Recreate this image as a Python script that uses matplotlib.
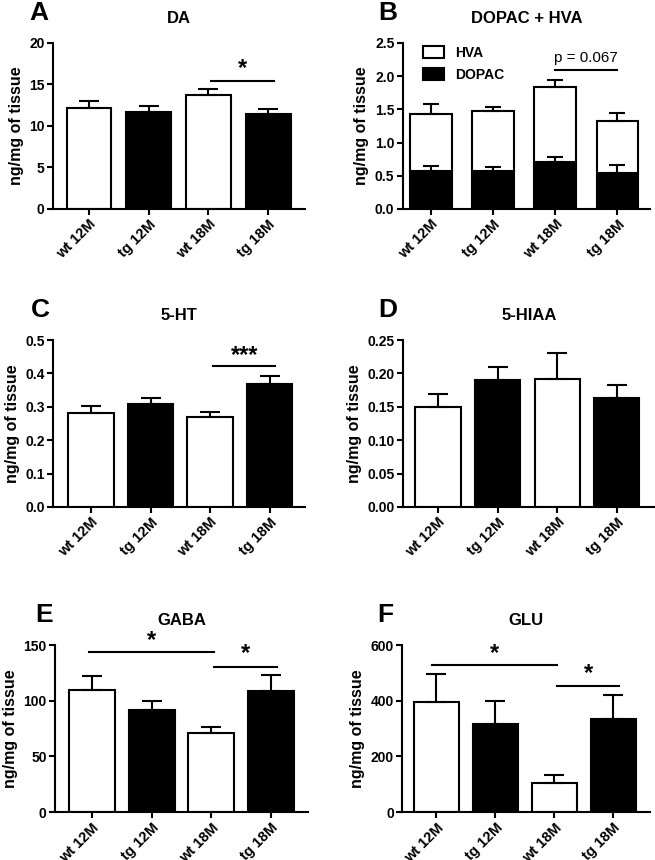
import numpy as np
import matplotlib.pyplot as plt
from matplotlib.patches import Patch

plt.rcParams['font.family'] = ['Liberation Sans', 'DejaVu Sans']
plt.rcParams['font.weight'] = 'bold'

groups = ['wt 12M', 'tg 12M', 'wt 18M', 'tg 18M']
colors = ['white', 'black', 'white', 'black']

da_mean = [12.2, 11.7, 13.7, 11.4]
da_sem = [0.8, 0.7, 0.8, 0.6]

dopac_mean = [0.575, 0.575, 0.715, 0.54]
dopac_sem = [0.065, 0.05, 0.075, 0.115]
hva_mean = [0.86, 0.90, 1.115, 0.79]
hva_sem = [0.14, 0.065, 0.115, 0.115]

ht_mean = [0.282, 0.31, 0.27, 0.37]
ht_sem = [0.02, 0.018, 0.015, 0.022]

hiaa_mean = [0.1495, 0.191, 0.1915, 0.164]
hiaa_sem = [0.02, 0.018, 0.0395, 0.019]

gaba_mean = [109.5, 91.8, 71.4, 108.9]
gaba_sem = [13.2, 8.1, 5.1, 14.4]

glu_mean = [396, 317, 106, 334]
glu_sem = [101, 84, 26, 87]

# significance bars: (start, end, height, label, label height)
da_sig = [(2.05, 3.1, 15.4, '*', 16.9)]
dopac_sig = [(2.0, 3.0, 2.09, 'p = 0.067', 2.27)]
ht_sig = [(2.05, 3.1, 0.422, '***', 0.455)]
gaba_sig = [(-0.05, 2.05, 144, '*', 154.5), (2.05, 3.1, 130, '*', 142.5)]
glu_sig = [(-0.08, 2.05, 530, '*', 570), (2.05, 3.1, 452, '*', 498)]

fig = plt.figure(figsize=(6.55, 8.6), dpi=100)

x = np.arange(len(groups))


def style(ax, ymax, yticks, xlim, fmt):
    ax.spines['top'].set_visible(False)
    ax.spines['right'].set_visible(False)
    ax.spines['left'].set_linewidth(1.5)
    ax.spines['bottom'].set_linewidth(1.5)
    ax.set_xlim(*xlim)
    ax.set_ylim(0, ymax)
    ax.set_yticks(yticks)
    ax.set_yticklabels([fmt.format(t) for t in yticks], fontsize=10, fontweight='bold')
    ax.set_xticks(x)
    ax.set_xticklabels(groups, rotation=45, ha='right', rotation_mode='anchor',
                       fontsize=10.5, fontweight='bold')
    ax.tick_params(width=1.5, length=4, pad=2)
    ax.set_ylabel('ng/mg of tissue', fontsize=11.5, fontweight='bold', labelpad=4)


def label(ax, letter, title, lx):
    ax.text(0.5, 1.15, title, transform=ax.transAxes, ha='center', va='center',
            fontsize=12, fontweight='bold')
    ax.text(lx, 1.18, letter, transform=ax.transAxes, ha='center', va='center',
            fontsize=19, fontweight='bold')


def sig(ax, items, fs=17, weight='bold'):
    for x0, x1, h, txt, th in items:
        ax.plot([x0, x1], [h, h], color='black', lw=1.5, clip_on=False)
        ax.text((x0 + x1) / 2, th, txt, ha='center', va='center',
                fontsize=fs, fontweight=weight)


def simple(ax, mean, sem, width):
    ax.bar(x, mean, width=width, color=colors, edgecolor='black', linewidth=1.5, zorder=2)
    ax.errorbar(x, mean, yerr=[np.zeros(4), sem], fmt='none', ecolor='black',
                elinewidth=1.5, capsize=7, capthick=1.5, zorder=3)


# A
axA = fig.add_axes([0.081, 0.757, 0.385, 0.193])
simple(axA, da_mean, da_sem, 0.75)
style(axA, 20, [0, 5, 10, 15, 20], (-0.6, 3.62), '{:g}')
sig(axA, da_sig)
label(axA, 'A', 'DA', -0.055)

# B
axB = fig.add_axes([0.615, 0.757, 0.377, 0.193])
axB.bar(x, dopac_mean, width=0.67, color='black', edgecolor='black', linewidth=1.5, zorder=2)
axB.bar(x, hva_mean, bottom=dopac_mean, width=0.67, color='white', edgecolor='black',
        linewidth=1.5, zorder=2)
tot = np.array(dopac_mean) + np.array(hva_mean)
axB.errorbar(x, dopac_mean, yerr=[np.zeros(4), dopac_sem], fmt='none', ecolor='black',
             elinewidth=1.5, capsize=6, capthick=1.5, zorder=3)
axB.errorbar(x, tot, yerr=[np.zeros(4), hva_sem], fmt='none', ecolor='black',
             elinewidth=1.5, capsize=6, capthick=1.5, zorder=3)
style(axB, 2.5, [0, 0.5, 1.0, 1.5, 2.0, 2.5], (-0.45, 3.52), '{:.1f}')
sig(axB, dopac_sig, fs=11, weight='normal')
handles = [Patch(facecolor='white', edgecolor='black', linewidth=1.5, label='HVA'),
           Patch(facecolor='black', edgecolor='black', linewidth=1.5, label='DOPAC')]
axB.legend(handles=handles, loc='upper left', bbox_to_anchor=(0.03, 1.06), frameon=False,
           prop={'size': 10, 'weight': 'bold'}, handlelength=1.5, handleheight=0.9,
           labelspacing=0.6, handletextpad=0.8)
label(axB, 'B', 'DOPAC + HVA', -0.06)

# C
axC = fig.add_axes([0.081, 0.4105, 0.385, 0.194])
simple(axC, ht_mean, ht_sem, 0.77)
style(axC, 0.5, [0, 0.1, 0.2, 0.3, 0.4, 0.5], (-0.64, 3.6), '{:.1f}')
sig(axC, ht_sig)
label(axC, 'C', '5-HT', -0.05)

# D
axD = fig.add_axes([0.615, 0.4105, 0.385, 0.194])
simple(axD, hiaa_mean, hiaa_sem, 0.76)
style(axD, 0.25, [0, 0.05, 0.10, 0.15, 0.20, 0.25], (-0.59, 3.64), '{:.2f}')
label(axD, 'D', '5-HIAA', -0.06)

# E
axE = fig.add_axes([0.084, 0.0558, 0.386, 0.194])
simple(axE, gaba_mean, gaba_sem, 0.77)
style(axE, 150, [0, 50, 100, 150], (-0.62, 3.62), '{:g}')
sig(axE, gaba_sig)
label(axE, 'E', 'GABA', -0.045)

# F
axF = fig.add_axes([0.614, 0.0558, 0.378, 0.194])
simple(axF, glu_mean, glu_sem, 0.77)
style(axF, 600, [0, 200, 400, 600], (-0.58, 3.62), '{:g}')
sig(axF, glu_sig)
label(axF, 'F', 'GLU', -0.07)

fig.savefig('out.png', dpi=100)
